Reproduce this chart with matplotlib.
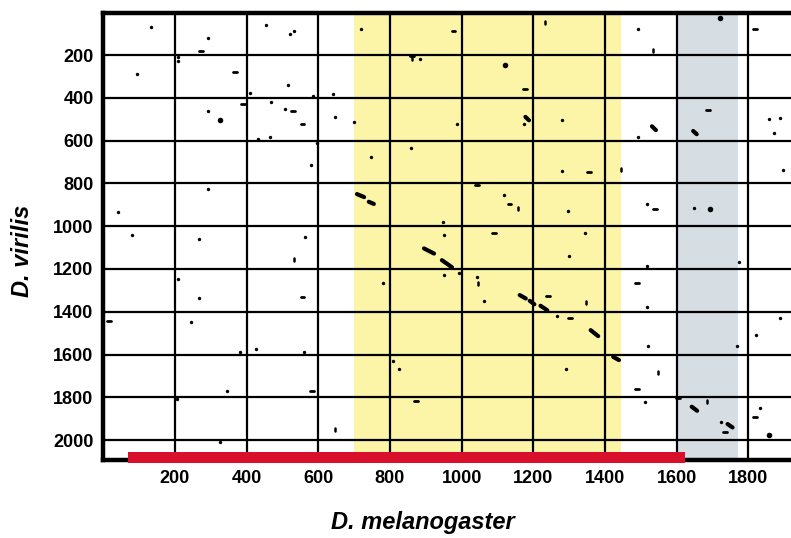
import numpy as np
import matplotlib.pyplot as plt

plt.rcParams['font.family'] = ['Liberation Sans', 'DejaVu Sans']

# Bereiche (D. melanogaster Koordinaten)
gelb_bereich = (700, 1445)
grau_bereich = (1605, 1770)
rot_balken = (68, 1624)

# kleine Punkte (x = D. melanogaster, y = D. virilis)
punkt_x = [132, 293, 454, 210, 208, 95, 410, 467, 293, 431, 465, 293, 40, 80,
           532, 521, 718, 885, 516, 584, 640, 506, 646, 699, 596, 579, 746, 860,
           947, 950, 563, 1281, 1281, 1119, 1296, 1343, 988, 1174, 1492, 1493,
           1857, 1887, 1872, 1897, 1518, 1649, 267, 210, 267, 246, 382, 427, 346,
           207, 325, 950, 782, 559, 808, 825, 992, 1042, 1063, 1265, 1291, 1300,
           1518, 1773, 1518, 1888, 1820, 1519, 1768, 1511, 1725, 1833]
punkt_y = [69, 121, 61, 209, 227, 287, 379, 419, 461, 593, 583, 827, 933, 1039,
           86, 103, 76, 217, 338, 391, 382, 452, 488, 513, 611, 713, 676, 634,
           981, 1043, 1051, 502, 740, 852, 931, 1034, 520, 520, 76, 583,
           497, 495, 564, 738, 896, 914, 1058, 1246, 1335, 1450, 1590, 1572, 1771,
           1807, 2008, 1229, 1265, 1589, 1631, 1667, 1221, 1238, 1350, 1421, 1667, 1139,
           1184, 1167, 1377, 1430, 1508, 1559, 1558, 1821, 1914, 1849]

# groessere Punkte
gross_x = [327, 1121, 1722, 1693, 1859]
gross_y = [502, 248, 28, 919, 1975]

# waagerechte Striche
strich_x = [273, 367, 390, 530, 556, 977, 1177, 1356, 1043, 1134, 1090, 1819,
            1687, 1539, 556, 582, 873, 1241, 1302, 1490, 1490, 1604, 1819, 1735,
            16, 861]
strich_y = [182, 280, 427, 460, 522, 86, 357, 749, 808, 896, 1034, 76,
            458, 922, 1333, 1771, 1815, 1326, 1431, 1265, 1760, 1805, 1893, 1964,
            1441, 205]

# senkrechte Striche
senk_x = [1232, 1534, 532, 1046, 1347, 1549, 647, 1686, 1444, 1156, 861]
senk_y = [48, 179, 1154, 1270, 1357, 1686, 1949, 1818, 735, 919, 215]

# schraege Fragmente: x0, y0, x1, y1
diag_x0 = [708, 741, 895, 945, 1162, 1190, 1220, 1360, 1423, 1642, 1742, 1531, 1646, 1178]
diag_y0 = [850, 886, 1104, 1159, 1322, 1349, 1372, 1486, 1611, 1844, 1925, 533, 555, 489]
diag_x1 = [728, 755, 923, 973, 1179, 1203, 1239, 1381, 1439, 1657, 1756, 1542, 1656, 1188]
diag_y1 = [864, 896, 1128, 1192, 1338, 1365, 1393, 1514, 1626, 1863, 1941, 551, 570, 505]

fig = plt.figure(figsize=(7.91, 5.38), dpi=100)
ax = fig.add_axes([0.1305, 0.145, 0.8695, 0.831])

ax.axvspan(gelb_bereich[0], gelb_bereich[1], color='#fcf5a8', zorder=0, lw=0)
ax.axvspan(grau_bereich[0], grau_bereich[1], color='#d6dee3', zorder=0, lw=0)

for v in range(200, 1801, 200):
    ax.axvline(v, color='black', lw=1.6, zorder=1)
for h in range(200, 2001, 200):
    ax.axhline(h, color='black', lw=1.6, zorder=1)

ax.scatter(punkt_x, punkt_y, s=6, marker='o', color='black', lw=0, zorder=3)
ax.scatter(gross_x, gross_y, s=16, marker='o', color='black', lw=0, zorder=3)
for x, y in zip(strich_x, strich_y):
    ax.plot([x - 5, x + 5], [y, y], color='black', lw=2.0, solid_capstyle='round', zorder=3)
for x, y in zip(senk_x, senk_y):
    ax.plot([x, x], [y - 7, y + 7], color='black', lw=1.8, solid_capstyle='round', zorder=3)
for x0, y0, x1, y1 in zip(diag_x0, diag_y0, diag_x1, diag_y1):
    ax.plot([x0, x1], [y0, y1], color='black', lw=3.0, solid_capstyle='round', zorder=3)

ax.barh(2080, rot_balken[1] - rot_balken[0], left=rot_balken[0], height=52,
        color='#d9102b', zorder=4, clip_on=False)

ax.set_xlim(0, 1919)
ax.set_ylim(2093, 3)
ax.set_xticks(range(200, 1801, 200))
ax.set_yticks(range(200, 2001, 200))
ax.tick_params(length=0, labelsize=13, pad=7)
for lab in ax.get_xticklabels() + ax.get_yticklabels():
    lab.set_fontweight('bold')

for s in ['left', 'top', 'bottom']:
    ax.spines[s].set_linewidth(3.2)
ax.spines['right'].set_visible(False)

fig.text(0.535, 0.028, 'D. melanogaster', ha='center', va='center',
         fontsize=17, fontweight='bold', fontstyle='italic')
fig.text(0.028, 0.533, 'D. virilis', ha='center', va='center', rotation=90,
         fontsize=17, fontweight='bold', fontstyle='italic')

fig.savefig('out.png', dpi=100)
